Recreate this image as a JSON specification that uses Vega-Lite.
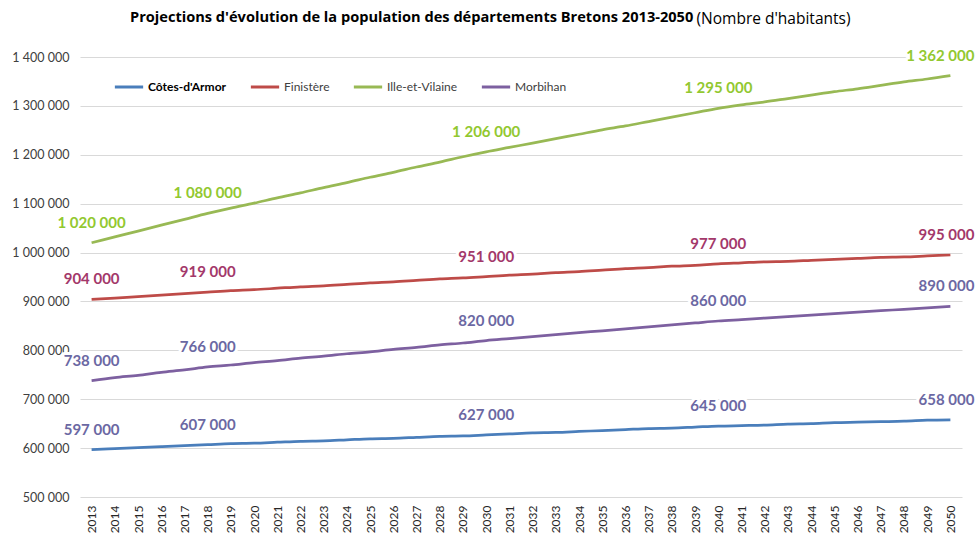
{
  "$schema": "https://vega.github.io/schema/vega-lite/v6.json",
  "autosize": {"type": "none"},
  "width": 882,
  "height": 440,
  "padding": {"left": 80, "top": 57, "right": 16, "bottom": 38},
  "background": "white",
  "config": {
    "locale": {"number": {"decimal": ",", "thousands": " ", "grouping": [3], "currency": ["", " €"]}},
    "view": {"stroke": null},
    "font": "Lato"
  },
  "title": {
    "text": "Projections d'évolution de la population  des départements Bretons 2013-2050",
    "anchor": "start",
    "frame": "group",
    "dx": 50,
    "offset": -14,
    "fontSize": 14.6,
    "fontWeight": "bold",
    "color": "#000000",
    "font": "Open Sans"
  },
  "datasets": {
    "pop": [
      {"year":2013,"dep":"Côtes-d'Armor","pop":597000},{"year":2014,"dep":"Côtes-d'Armor","pop":599000},{"year":2015,"dep":"Côtes-d'Armor","pop":601000},{"year":2016,"dep":"Côtes-d'Armor","pop":603000},{"year":2017,"dep":"Côtes-d'Armor","pop":605000},{"year":2018,"dep":"Côtes-d'Armor","pop":607000},{"year":2019,"dep":"Côtes-d'Armor","pop":609000},{"year":2020,"dep":"Côtes-d'Armor","pop":610000},{"year":2021,"dep":"Côtes-d'Armor","pop":612000},{"year":2022,"dep":"Côtes-d'Armor","pop":614000},{"year":2023,"dep":"Côtes-d'Armor","pop":615000},{"year":2024,"dep":"Côtes-d'Armor","pop":617000},{"year":2025,"dep":"Côtes-d'Armor","pop":619000},{"year":2026,"dep":"Côtes-d'Armor","pop":620000},{"year":2027,"dep":"Côtes-d'Armor","pop":622000},{"year":2028,"dep":"Côtes-d'Armor","pop":624000},{"year":2029,"dep":"Côtes-d'Armor","pop":625000},{"year":2030,"dep":"Côtes-d'Armor","pop":627000},{"year":2031,"dep":"Côtes-d'Armor","pop":629000},{"year":2032,"dep":"Côtes-d'Armor","pop":631000},{"year":2033,"dep":"Côtes-d'Armor","pop":632000},{"year":2034,"dep":"Côtes-d'Armor","pop":634000},{"year":2035,"dep":"Côtes-d'Armor","pop":636000},{"year":2036,"dep":"Côtes-d'Armor","pop":638000},{"year":2037,"dep":"Côtes-d'Armor","pop":640000},{"year":2038,"dep":"Côtes-d'Armor","pop":641000},{"year":2039,"dep":"Côtes-d'Armor","pop":643000},{"year":2040,"dep":"Côtes-d'Armor","pop":645000},{"year":2041,"dep":"Côtes-d'Armor","pop":646000},{"year":2042,"dep":"Côtes-d'Armor","pop":647000},{"year":2043,"dep":"Côtes-d'Armor","pop":649000},{"year":2044,"dep":"Côtes-d'Armor","pop":650000},{"year":2045,"dep":"Côtes-d'Armor","pop":652000},{"year":2046,"dep":"Côtes-d'Armor","pop":653000},{"year":2047,"dep":"Côtes-d'Armor","pop":654000},{"year":2048,"dep":"Côtes-d'Armor","pop":655000},{"year":2049,"dep":"Côtes-d'Armor","pop":657000},{"year":2050,"dep":"Côtes-d'Armor","pop":658000},
      {"year":2013,"dep":"Finistère","pop":904000},{"year":2014,"dep":"Finistère","pop":907000},{"year":2015,"dep":"Finistère","pop":910000},{"year":2016,"dep":"Finistère","pop":913000},{"year":2017,"dep":"Finistère","pop":916000},{"year":2018,"dep":"Finistère","pop":919000},{"year":2019,"dep":"Finistère","pop":922000},{"year":2020,"dep":"Finistère","pop":924000},{"year":2021,"dep":"Finistère","pop":927000},{"year":2022,"dep":"Finistère","pop":930000},{"year":2023,"dep":"Finistère","pop":932000},{"year":2024,"dep":"Finistère","pop":935000},{"year":2025,"dep":"Finistère","pop":938000},{"year":2026,"dep":"Finistère","pop":940000},{"year":2027,"dep":"Finistère","pop":943000},{"year":2028,"dep":"Finistère","pop":946000},{"year":2029,"dep":"Finistère","pop":948000},{"year":2030,"dep":"Finistère","pop":951000},{"year":2031,"dep":"Finistère","pop":954000},{"year":2032,"dep":"Finistère","pop":956000},{"year":2033,"dep":"Finistère","pop":959000},{"year":2034,"dep":"Finistère","pop":961000},{"year":2035,"dep":"Finistère","pop":964000},{"year":2036,"dep":"Finistère","pop":967000},{"year":2037,"dep":"Finistère","pop":969000},{"year":2038,"dep":"Finistère","pop":972000},{"year":2039,"dep":"Finistère","pop":974000},{"year":2040,"dep":"Finistère","pop":977000},{"year":2041,"dep":"Finistère","pop":979000},{"year":2042,"dep":"Finistère","pop":981000},{"year":2043,"dep":"Finistère","pop":982000},{"year":2044,"dep":"Finistère","pop":984000},{"year":2045,"dep":"Finistère","pop":986000},{"year":2046,"dep":"Finistère","pop":988000},{"year":2047,"dep":"Finistère","pop":990000},{"year":2048,"dep":"Finistère","pop":991000},{"year":2049,"dep":"Finistère","pop":993000},{"year":2050,"dep":"Finistère","pop":995000},
      {"year":2013,"dep":"Ille-et-Vilaine","pop":1020000},{"year":2014,"dep":"Ille-et-Vilaine","pop":1032000},{"year":2015,"dep":"Ille-et-Vilaine","pop":1044000},{"year":2016,"dep":"Ille-et-Vilaine","pop":1056000},{"year":2017,"dep":"Ille-et-Vilaine","pop":1068000},{"year":2018,"dep":"Ille-et-Vilaine","pop":1080000},{"year":2019,"dep":"Ille-et-Vilaine","pop":1091000},{"year":2020,"dep":"Ille-et-Vilaine","pop":1101000},{"year":2021,"dep":"Ille-et-Vilaine","pop":1112000},{"year":2022,"dep":"Ille-et-Vilaine","pop":1122000},{"year":2023,"dep":"Ille-et-Vilaine","pop":1133000},{"year":2024,"dep":"Ille-et-Vilaine","pop":1143000},{"year":2025,"dep":"Ille-et-Vilaine","pop":1154000},{"year":2026,"dep":"Ille-et-Vilaine","pop":1164000},{"year":2027,"dep":"Ille-et-Vilaine","pop":1175000},{"year":2028,"dep":"Ille-et-Vilaine","pop":1185000},{"year":2029,"dep":"Ille-et-Vilaine","pop":1196000},{"year":2030,"dep":"Ille-et-Vilaine","pop":1206000},{"year":2031,"dep":"Ille-et-Vilaine","pop":1215000},{"year":2032,"dep":"Ille-et-Vilaine","pop":1224000},{"year":2033,"dep":"Ille-et-Vilaine","pop":1233000},{"year":2034,"dep":"Ille-et-Vilaine","pop":1242000},{"year":2035,"dep":"Ille-et-Vilaine","pop":1251000},{"year":2036,"dep":"Ille-et-Vilaine","pop":1259000},{"year":2037,"dep":"Ille-et-Vilaine","pop":1268000},{"year":2038,"dep":"Ille-et-Vilaine","pop":1277000},{"year":2039,"dep":"Ille-et-Vilaine","pop":1286000},{"year":2040,"dep":"Ille-et-Vilaine","pop":1295000},{"year":2041,"dep":"Ille-et-Vilaine","pop":1302000},{"year":2042,"dep":"Ille-et-Vilaine","pop":1308000},{"year":2043,"dep":"Ille-et-Vilaine","pop":1315000},{"year":2044,"dep":"Ille-et-Vilaine","pop":1322000},{"year":2045,"dep":"Ille-et-Vilaine","pop":1329000},{"year":2046,"dep":"Ille-et-Vilaine","pop":1335000},{"year":2047,"dep":"Ille-et-Vilaine","pop":1342000},{"year":2048,"dep":"Ille-et-Vilaine","pop":1349000},{"year":2049,"dep":"Ille-et-Vilaine","pop":1355000},{"year":2050,"dep":"Ille-et-Vilaine","pop":1362000},
      {"year":2013,"dep":"Morbihan","pop":738000},{"year":2014,"dep":"Morbihan","pop":744000},{"year":2015,"dep":"Morbihan","pop":749000},{"year":2016,"dep":"Morbihan","pop":755000},{"year":2017,"dep":"Morbihan","pop":760000},{"year":2018,"dep":"Morbihan","pop":766000},{"year":2019,"dep":"Morbihan","pop":770000},{"year":2020,"dep":"Morbihan","pop":775000},{"year":2021,"dep":"Morbihan","pop":779000},{"year":2022,"dep":"Morbihan","pop":784000},{"year":2023,"dep":"Morbihan","pop":788000},{"year":2024,"dep":"Morbihan","pop":793000},{"year":2025,"dep":"Morbihan","pop":797000},{"year":2026,"dep":"Morbihan","pop":802000},{"year":2027,"dep":"Morbihan","pop":806000},{"year":2028,"dep":"Morbihan","pop":811000},{"year":2029,"dep":"Morbihan","pop":815000},{"year":2030,"dep":"Morbihan","pop":820000},{"year":2031,"dep":"Morbihan","pop":824000},{"year":2032,"dep":"Morbihan","pop":828000},{"year":2033,"dep":"Morbihan","pop":832000},{"year":2034,"dep":"Morbihan","pop":836000},{"year":2035,"dep":"Morbihan","pop":840000},{"year":2036,"dep":"Morbihan","pop":844000},{"year":2037,"dep":"Morbihan","pop":848000},{"year":2038,"dep":"Morbihan","pop":852000},{"year":2039,"dep":"Morbihan","pop":856000},{"year":2040,"dep":"Morbihan","pop":860000},{"year":2041,"dep":"Morbihan","pop":863000},{"year":2042,"dep":"Morbihan","pop":866000},{"year":2043,"dep":"Morbihan","pop":869000},{"year":2044,"dep":"Morbihan","pop":872000},{"year":2045,"dep":"Morbihan","pop":875000},{"year":2046,"dep":"Morbihan","pop":878000},{"year":2047,"dep":"Morbihan","pop":881000},{"year":2048,"dep":"Morbihan","pop":884000},{"year":2049,"dep":"Morbihan","pop":887000},{"year":2050,"dep":"Morbihan","pop":890000}
    ]
  },
  "data": {"name": "pop"},
  "encoding": {
    "x": {
      "field": "year",
      "type": "ordinal",
      "scale": {"type": "point", "padding": 0.5},
      "axis": {
        "title": null,
        "labelAngle": -90,
        "labelAlign": "right",
        "labelBaseline": "middle",
        "labelPadding": 8,
        "labelFontSize": 12,
        "labelColor": "#262626",
        "labelFont": "Lato",
        "ticks": false,
        "domain": false,
        "grid": false
      }
    },
    "y": {
      "field": "pop",
      "type": "quantitative",
      "scale": {"domain": [500000, 1400000], "nice": false, "zero": false},
      "axis": {
        "values": [500000, 600000, 700000, 800000, 900000, 1000000, 1100000, 1200000, 1300000, 1400000],
        "format": ",d",
        "title": "(Nombre d'habitants)",
        "titleAngle": 0,
        "titleX": 616,
        "titleY": -39,
        "titleAlign": "left",
        "titleBaseline": "middle",
        "titleFontWeight": "normal",
        "titleFontSize": 15.5,
        "titleColor": "#000000",
        "titleFont": "Open Sans",
        "labelFontSize": 12.5,
        "labelColor": "#404040",
        "labelFont": "Lato",
        "labelPadding": 11,
        "ticks": false,
        "domain": false,
        "grid": true,
        "gridColor": "#d9d9d9",
        "gridWidth": 1
      }
    }
  },
  "layer": [
    {
      "mark": {"type": "line", "strokeWidth": 2.75, "interpolate": "monotone"},
      "encoding": {
        "stroke": {
          "field": "dep",
          "type": "nominal",
          "scale": {
            "domain": ["Côtes-d'Armor", "Finistère", "Ille-et-Vilaine", "Morbihan"],
            "range": ["#4a7ebb", "#be4b48", "#98b954", "#7d60a0"]
          },
          "legend": {
            "title": null,
            "orient": "none",
            "legendX": 33,
            "legendY": 14,
            "direction": "horizontal",
            "symbolType": "stroke",
            "symbolSize": 800,
            "symbolStrokeWidth": 3,
            "labelFontSize": 12,
            "labelColor": "#404040",
            "labelFont": "Lato",
            "columnPadding": 17,
            "labelOffset": 3,
            "encode": {
              "labels": {
                "update": {
                  "fontWeight": [
                    {"test": "datum.label === \"Côtes-d'Armor\"", "value": "bold"},
                    {"value": "normal"}
                  ],
                  "fill": [
                    {"test": "datum.label === \"Côtes-d'Armor\"", "value": "#000000"},
                    {"value": "#404040"}
                  ]
                }
              }
            }
          }
        }
      }
    },
    {
      "transform": [{"filter": "indexof([2013, 2018, 2030, 2040], datum.year) >= 0"}],
      "mark": {"type": "text", "dy": -20, "fontSize": 15, "fontWeight": "bold", "font": "Lato", "fill": "white", "stroke": "white", "strokeWidth": 6, "strokeJoin": "round"},
      "encoding": {"text": {"field": "pop", "type": "quantitative", "format": ",d"}}
    },
    {
      "transform": [{"filter": "indexof([2013, 2018, 2030, 2040], datum.year) >= 0"}],
      "mark": {"type": "text", "dy": -20, "fontSize": 15, "fontWeight": "bold", "font": "Lato"},
      "encoding": {
        "text": {"field": "pop", "type": "quantitative", "format": ",d"},
        "fill": {
          "field": "dep",
          "type": "nominal",
          "scale": {
            "domain": ["Côtes-d'Armor", "Finistère", "Ille-et-Vilaine", "Morbihan"],
            "range": ["#6b68a3", "#a3386a", "#92c830", "#6b68a3"]
          },
          "legend": null
        }
      }
    },
    {
      "transform": [{"filter": "datum.year === 2050"}],
      "mark": {"type": "text", "dy": -20, "dx": 24, "align": "right", "fontSize": 15, "fontWeight": "bold", "font": "Lato", "fill": "white", "stroke": "white", "strokeWidth": 6, "strokeJoin": "round"},
      "encoding": {"text": {"field": "pop", "type": "quantitative", "format": ",d"}}
    },
    {
      "transform": [{"filter": "datum.year === 2050"}],
      "mark": {"type": "text", "dy": -20, "dx": 24, "align": "right", "fontSize": 15, "fontWeight": "bold", "font": "Lato"},
      "encoding": {
        "text": {"field": "pop", "type": "quantitative", "format": ",d"},
        "fill": {
          "field": "dep",
          "type": "nominal",
          "scale": {
            "domain": ["Côtes-d'Armor", "Finistère", "Ille-et-Vilaine", "Morbihan"],
            "range": ["#6b68a3", "#a3386a", "#92c830", "#6b68a3"]
          },
          "legend": null
        }
      }
    }
  ]
}
